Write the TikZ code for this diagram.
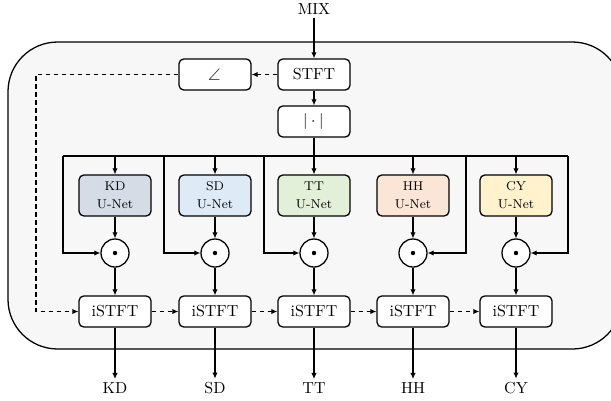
\documentclass[tikz,border=0pt]{standalone}
\usepackage{unicode-math}
\usetikzlibrary{arrows.meta}

\definecolor{panelbg}{HTML}{F7F7F7}
\definecolor{kdfill}{HTML}{D6DCE5}
\definecolor{sdfill}{HTML}{DEEBF7}
\definecolor{ttfill}{HTML}{E2F0D9}
\definecolor{hhfill}{HTML}{FBE5D6}
\definecolor{cyfill}{HTML}{FFF2CC}

\tikzset{
  panel/.style={draw, line width=0.8pt, fill=panelbg, rounded corners=31pt},
  opbox/.style={draw, line width=0.8pt, rounded corners=3pt, fill=white,
    minimum width=45pt, minimum height=19.4pt, inner sep=0pt},
  unet/.style={opbox, minimum height=25.6pt, font=\footnotesize, align=center},
  prod/.style={draw, circle, line width=0.8pt, fill=white, minimum size=17.5pt, inner sep=0pt},
  lbl/.style={inner sep=2pt},
  tip/.style={-{Latex[length=3.8pt,width=3.4pt]}},
  link/.style={line width=0.7pt},
  flow/.style={link, tip},
  phase/.style={link, tip, dashed, dash pattern=on 3pt off 2pt},
}

\begin{document}
\begin{tikzpicture}[x=0.625pt, y=-0.625pt]
  \clip (0,0) rectangle (611,400);

  % rounded panel holding the separation network
  \draw[panel] (8,42) rectangle (622,349);

  % input and spectrogram front end
  \node[lbl] (mix) at (314,9) {MIX};
  \node[opbox] (stft) at (314,74.5) {STFT};
  \node[opbox] (ang) at (215,74.5) {$\angle$};
  \node[opbox] (mag) at (314,121.5) {$|\cdot|$};

  % source-specific U-Nets
  \node[unet, fill=kdfill] (u1) at (115,195.5) {KD\\[1.8pt]U-Net};
  \node[unet, fill=sdfill] (u2) at (215,195.5) {SD\\[1.8pt]U-Net};
  \node[unet, fill=ttfill] (u3) at (314,195.5) {TT\\[1.8pt]U-Net};
  \node[unet, fill=hhfill] (u4) at (413,195.5) {HH\\[1.8pt]U-Net};
  \node[unet, fill=cyfill] (u5) at (516,195.5) {CY\\[1.8pt]U-Net};

  % masking products
  \foreach \i/\x in {1/115, 2/215, 3/314, 4/413, 5/516} {
    \node[prod] (p\i) at (\x,253) {};
    \fill (p\i) circle (2.2);
  }

  % inverse transforms
  \foreach \i/\x in {1/115, 2/215, 3/314, 4/413, 5/516} {
    \node[opbox] (i\i) at (\x,311.5) {iSTFT};
  }

  % outputs
  \node[lbl] (o1) at (115,388) {KD};
  \node[lbl] (o2) at (215,388) {SD};
  \node[lbl] (o3) at (314,388) {TT};
  \node[lbl] (o4) at (413,388) {HH};
  \node[lbl] (o5) at (516,388) {CY};

  % magnitude distribution bus
  \coordinate (busL) at (63,156);
  \coordinate (busR) at (568,156);
  \coordinate (f1) at (63,156);
  \coordinate (f2) at (164,156);
  \coordinate (f3) at (264,156);
  \coordinate (f4) at (466,156);
  \coordinate (f5) at (568,156);

  \draw[flow] (mix) -- (stft);
  \draw[flow] (stft) -- (mag);
  \draw[phase] (stft) -- (ang);
  \draw[link] (mag) -- (mag |- busL);
  \draw[link] (busL) -- (busR);

  \foreach \i in {1,...,5} {
    \draw[flow] (u\i |- busL) -- (u\i);
    \draw[flow] (u\i) -- (p\i);
    \draw[flow] (f\i) |- (p\i);
    \draw[flow] (p\i) -- (i\i);
    \draw[flow] (i\i) -- (o\i);
  }

  % phase path through the inverse transforms
  \coordinate (ph) at (36,74.5);
  \draw[phase] (ang) -- (ph) |- (i1);
  \draw[phase] (i1) -- (i2);
  \draw[phase] (i2) -- (i3);
  \draw[phase] (i3) -- (i4);
  \draw[phase] (i4) -- (i5);
\end{tikzpicture}
\end{document}
